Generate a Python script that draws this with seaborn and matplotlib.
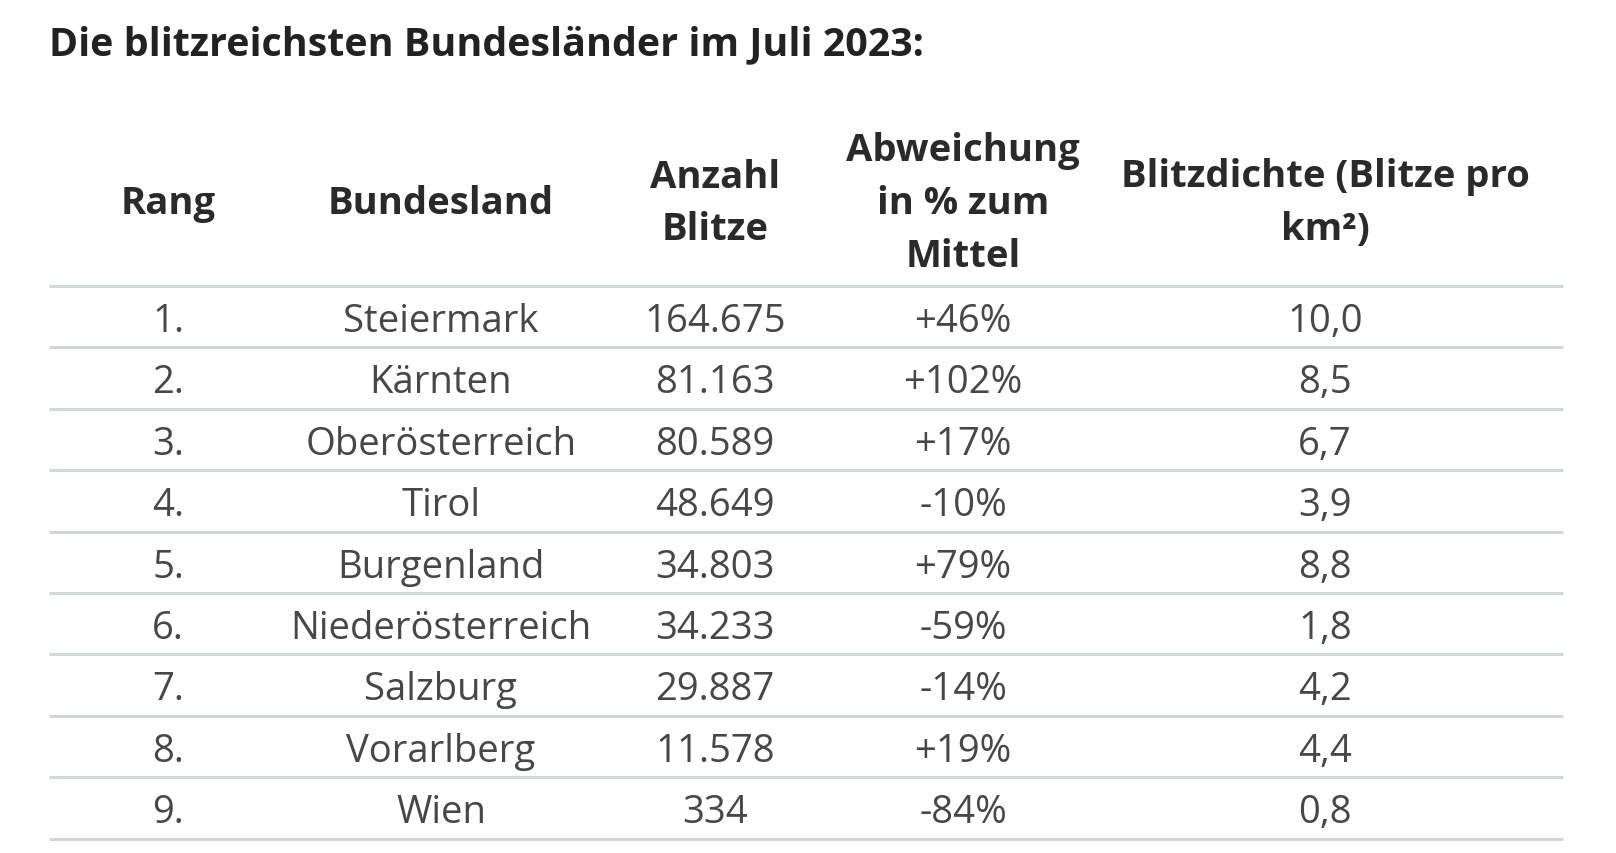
import matplotlib.pyplot as plt
import seaborn as sns

# table data
title = "Die blitzreichsten Bundesländer im Juli 2023:"
headers = [
    ["Rang"],
    ["Bundesland"],
    ["Anzahl", "Blitze"],
    ["Abweichung", "in % zum", "Mittel"],
    ["Blitzdichte (Blitze pro", "km²)"],
]
rang = ["1.", "2.", "3.", "4.", "5.", "6.", "7.", "8.", "9."]
bundesland = ["Steiermark", "Kärnten", "Oberösterreich", "Tirol", "Burgenland",
              "Niederösterreich", "Salzburg", "Vorarlberg", "Wien"]
anzahl_blitze = ["164.675", "81.163", "80.589", "48.649", "34.803",
                 "34.233", "29.887", "11.578", "334"]
abweichung = ["+46%", "+102%", "+17%", "-10%", "+79%", "-59%", "-14%", "+19%", "-84%"]
blitzdichte = ["10,0", "8,5", "6,7", "3,9", "8,8", "1,8", "4,2", "4,4", "0,8"]

columns = [rang, bundesland, anzahl_blitze, abweichung, blitzdichte]

sns.set_style("white")
plt.rcParams['font.family'] = ['Open Sans', 'DejaVu Sans']

W, H = 1616, 854
fig = plt.figure(figsize=(W / 100, H / 100), dpi=100)
ax = fig.add_axes([0, 0, 1, 1])
ax.set_xlim(0, W)
ax.set_ylim(H, 0)
ax.axis('off')

# layout in pixels
col_x = [168, 441, 715, 963, 1325]
left, right = 49, 1563
head_line = 287
row_h = 61.4
head_base = 214
head_step = 53

ax.text(left, 55, title, fontsize=28.4, fontweight='bold', color='#222222',
        ha='left', va='baseline')

for x, lines in zip(col_x, headers):
    n = len(lines)
    for k, line in enumerate(lines):
        y = head_base + (k - (n - 1) / 2) * head_step
        ax.text(x, y, line, fontsize=27.5, fontweight='bold', color='#2a2a2a',
                ha='center', va='baseline')

n_rows = len(rang)
for i in range(n_rows + 1):
    y = head_line + i * row_h
    ax.plot([left, right], [y, y], color='#d2d6dc', lw=2.2, solid_capstyle='butt')

for x, col in zip(col_x, columns):
    for i, val in enumerate(col):
        y = head_line + i * row_h + 45
        ax.text(x, y, val, fontsize=27.5, color='#474747', ha='center', va='baseline')

fig.savefig("out.png", dpi=100, facecolor='white')
